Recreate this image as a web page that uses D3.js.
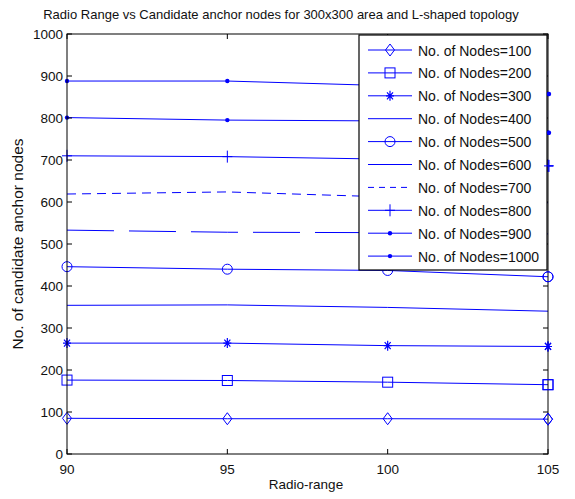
<!DOCTYPE html>
<html><head><meta charset="utf-8">
<script src="https://cdn.jsdelivr.net/npm/d3@7"></script>
<style>body{margin:0;background:#fff}svg{display:block;font-family:"Liberation Sans",Arial,sans-serif}</style>
</head><body><svg id="c" width="575" height="499"></svg>
<script>
const radioRange = [90, 95, 100, 105];
const xTicks = [90, 95, 100, 105];
const yTicks = [0,100,200,300,400,500,600,700,800,900,1000];
const seriesNames = ["No. of Nodes=100","No. of Nodes=200","No. of Nodes=300","No. of Nodes=400","No. of Nodes=500","No. of Nodes=600","No. of Nodes=700","No. of Nodes=800","No. of Nodes=900","No. of Nodes=1000"];
const nodes100 = [85, 84, 84, 83];
const nodes200 = [176, 175, 171, 165];
const nodes300 = [264, 264, 258, 256];
const nodes400 = [354, 355, 349, 340];
const nodes500 = [446, 440, 437, 422];
const nodes600 = [533, 528, 527, 524];
const nodes700 = [619, 624, 612, 598];
const nodes800 = [710, 708, 702, 686];
const nodes900 = [888, 888, 877, 857];
const nodes1000 = [801, 795, 793, 765];
const markers = ["diamond","square","star","none","circle","none","none","plus","dot","dot"];
const dashes = [null,null,null,null,null,"47,15","9,6",null,null,null];
const allSeries = [nodes100,nodes200,nodes300,nodes400,nodes500,nodes600,nodes700,nodes800,nodes900,nodes1000];

const svg = d3.select("#c");
const L = 67, R = 548, T = 34, B = 454;
const x = d3.scaleLinear().domain([90,105]).range([L,R]);
const y = d3.scaleLinear().domain([0,1000]).range([B,T]);
const blue = "#0000ff";

function drawMarker(g, type, cx, cy) {
  const s = g.append("g").attr("fill","none").attr("stroke",blue).attr("stroke-width",1);
  if (type === "diamond") s.append("path").attr("d",`M${cx},${cy-6}L${cx+4.5},${cy}L${cx},${cy+6}L${cx-4.5},${cy}Z`);
  else if (type === "square") s.append("rect").attr("x",cx-5).attr("y",cy-5).attr("width",10).attr("height",10);
  else if (type === "circle") s.append("circle").attr("cx",cx).attr("cy",cy).attr("r",5);
  else if (type === "plus") s.append("path").attr("d",`M${cx-5},${cy}H${cx+5}M${cx},${cy-6}V${cy+6}`);
  else if (type === "star") s.append("path").attr("stroke-width",1.2).attr("d",`M${cx-4},${cy}H${cx+4}M${cx},${cy-5}V${cy+5}M${cx-3},${cy-3.5}L${cx+3},${cy+3.5}M${cx-3},${cy+3.5}L${cx+3},${cy-3.5}`);
  else if (type === "dot") s.append("circle").attr("cx",cx).attr("cy",cy).attr("r",2.2).attr("fill",blue).attr("stroke","none");
}

svg.append("rect").attr("x",L).attr("y",T).attr("width",R-L).attr("height",B-T).attr("fill","#fff").attr("stroke","none");

const line = d3.line().x((d,i)=>x(radioRange[i])).y(d=>y(d));
allSeries.forEach((vals,k)=>{
  svg.append("path").datum(vals).attr("d",line).attr("fill","none").attr("stroke",blue).attr("stroke-width",1)
    .attr("stroke-dasharray",dashes[k]);
  if (markers[k] !== "none") vals.forEach((v,i)=>drawMarker(svg, markers[k], x(radioRange[i]), y(v)));
});

const axG = svg.append("g");
axG.append("rect").attr("x",L).attr("y",T).attr("width",R-L).attr("height",B-T).attr("fill","none").attr("stroke","#000").attr("stroke-width",1);
xTicks.forEach(t=>{
  const px = x(t);
  axG.append("line").attr("x1",px).attr("x2",px).attr("y1",B).attr("y2",B-5).attr("stroke","#000");
  axG.append("line").attr("x1",px).attr("x2",px).attr("y1",T).attr("y2",T+5).attr("stroke","#000");
  axG.append("text").attr("x",px).attr("y",B+20).attr("text-anchor","middle").attr("font-size",13.5).attr("fill","#111").text(t);
});
yTicks.forEach(t=>{
  const py = y(t);
  axG.append("line").attr("x1",L).attr("x2",L+5).attr("y1",py).attr("y2",py).attr("stroke","#000");
  axG.append("line").attr("x1",R).attr("x2",R-5).attr("y1",py).attr("y2",py).attr("stroke","#000");
  axG.append("text").attr("x",L-4).attr("y",py+5).attr("text-anchor","end").attr("font-size",13.5).attr("fill","#111").text(t);
});
allSeries.forEach((vals,k)=>{
  if (markers[k] !== "none") drawMarker(svg, markers[k], x(105), y(vals[3]));
});

const lg = svg.append("g");
const lx = 359, ly = 35, lw = 188, lh = 235;
lg.append("rect").attr("x",lx).attr("y",ly).attr("width",lw).attr("height",lh).attr("fill","#fff").attr("stroke","#000").attr("stroke-width",1.2);
seriesNames.forEach((name,k)=>{
  const ry = 50 + k*22.9;
  lg.append("line").attr("x1",368).attr("x2",412).attr("y1",ry).attr("y2",ry).attr("stroke",blue).attr("stroke-width",1).attr("stroke-dasharray",k===6?"6,5":null);
  if (markers[k] !== "none") drawMarker(lg, markers[k], 390, ry);
  lg.append("text").attr("x",418).attr("y",ry+5.5).attr("font-size",14).attr("fill","#111").text(name);
});
allSeries.forEach((vals,k)=>{
  if (markers[k] !== "none" && y(vals[3]) < ly+lh) drawMarker(svg, markers[k], x(105)+1, y(vals[3]));
});

svg.append("text").attr("x",281).attr("y",19).attr("text-anchor","middle").attr("font-size",13).attr("fill","#111")
  .text("Radio Range vs Candidate anchor nodes for 300x300 area and L-shaped topology");
svg.append("text").attr("x",306).attr("y",489).attr("text-anchor","middle").attr("font-size",13.5).attr("fill","#111").text("Radio-range");
svg.append("text").attr("transform",`translate(23,244) rotate(-90)`).attr("text-anchor","middle").attr("font-size",15.5).attr("fill","#111").text("No. of candidate anchor nodes");
</script></body></html>
